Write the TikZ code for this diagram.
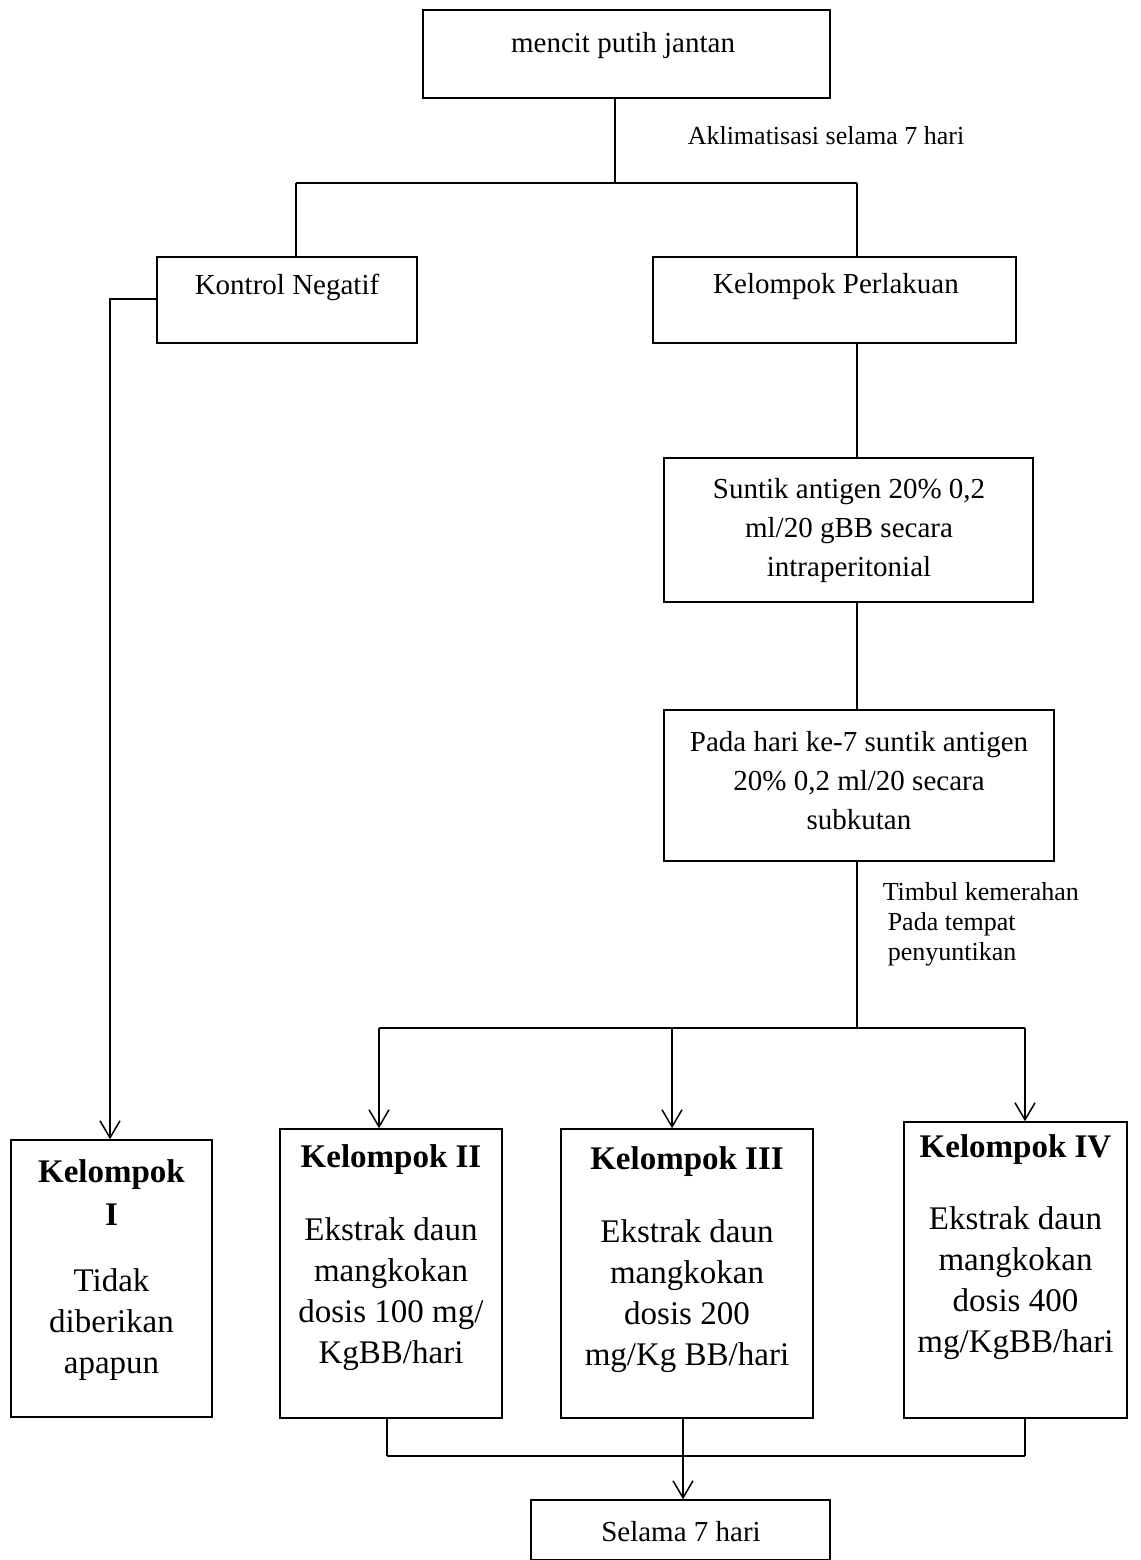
\documentclass[tikz,border=0pt]{standalone}
\usepackage{fontspec}
\setmainfont{Liberation Serif}
\usetikzlibrary{arrows.meta,positioning}

\begin{document}
\begin{tikzpicture}[x=1pt,y=-1pt,>={Straight Barb[length=17pt,width=20pt]},line width=1.5pt,
 b/.style={draw,line width=1.5pt,inner sep=0pt},
 t/.style={align=center,font=\fontsize{29}{39}\selectfont,inner sep=0pt},
 tk/.style={align=center,font=\fontsize{33}{41}\selectfont,inner sep=0pt},
 l/.style={align=left,font=\fontsize{26}{30}\selectfont,inner sep=0pt},
 a/.style={->}]
 \useasboundingbox (0,0) rectangle (1140,1560);
 % boxes
 \node[b,minimum width=407pt,minimum height=88pt] (mencit) at (626.5,54) {};
 \node[t] (mencitt) at (623,46) {mencit putih jantan};
 \node[b,minimum width=260pt,minimum height=86pt] (kontrol) at (287,300) {};
 \node[t] (kontrolt) at (287,287) {Kontrol Negatif};
 \node[b,minimum width=363pt,minimum height=86pt] (perlakuan) at (834.5,300) {};
 \node[t] (perlakuant) at (836,287) {Kelompok Perlakuan};
 \node[b,minimum width=369pt,minimum height=144pt] (suntik) at (848.5,530) {};
 \node[t] (suntikt) at (849,531) {Suntik antigen 20\% 0,2\\ml/20 gBB secara\\intraperitonial};
 \node[b,minimum width=390pt,minimum height=151pt] (pada) at (859,785.5) {};
 \node[t] (padat) at (859,781) {Pada hari ke-7 suntik antigen\\20\% 0,2 ml/20 secara\\subkutan};
 \node[b,minimum width=201pt,minimum height=277pt] (k1) at (111.5,1278.5) {};
 \node[tk,font=\fontsize{33}{43}\selectfont\bfseries] (k1h) at (111.5,1193) {Kelompok\\I};
 \node[tk] (k1t) at (111.5,1325) {Tidak\\diberikan\\apapun};
 \node[b,minimum width=222pt,minimum height=289pt] (k2) at (391,1273.5) {};
 \node[tk,font=\fontsize{33}{41}\selectfont\bfseries] (k2h) at (391,1160) {Kelompok II};
 \node[tk] (k2t) at (391,1294) {Ekstrak daun\\mangkokan\\dosis 100 mg/\\KgBB/hari};
 \node[b,minimum width=252pt,minimum height=289pt] (k3) at (687,1273.5) {};
 \node[tk,font=\fontsize{33}{41}\selectfont\bfseries] (k3h) at (687,1162) {Kelompok III};
 \node[tk] (k3t) at (687,1296) {Ekstrak daun\\mangkokan\\dosis 200\\mg/Kg BB/hari};
 \node[b,minimum width=223pt,minimum height=296pt] (k4) at (1015.5,1270) {};
 \node[tk,font=\fontsize{33}{41}\selectfont\bfseries] (k4h) at (1015.5,1150) {Kelompok IV};
 \node[tk] (k4t) at (1015.5,1283) {Ekstrak daun\\mangkokan\\dosis 400\\mg/KgBB/hari};
 \node[b,minimum width=299pt,minimum height=60pt] (selama) at (680.5,1530) {};
 \node[t] (selamat) at (681,1532) {Selama 7 hari};
 % labels
 \node[l,anchor=west] (aklim) at (687,136) {Aklimatisasi selama 7 hari};
 \node[l,anchor=west] (timbul) at (882,924) {Timbul kemerahan\\\hspace*{5pt}Pada tempat\\\hspace*{5pt}penyuntikan};
 % junctions
 \coordinate (split) at (615,183);
 \coordinate (jl) at (296,183);
 \coordinate (jr) at (857,183);
 \coordinate (kl) at (110,299);
 \coordinate (jb) at (857,1028);
 \coordinate (b2) at (379,1028);
 \coordinate (b3) at (672,1028);
 \coordinate (b4) at (1025,1028);
 \coordinate (m2) at (387,1456);
 \coordinate (m3) at (683,1456);
 \coordinate (m4) at (1025,1456);
 % connectors
 \draw (mencit.south -| split) -- (split);
 \draw (jl) -- (jr);
 \draw (jl) -- (jl |- kontrol.north);
 \draw (jr) -- (jr |- perlakuan.north);
 \draw (perlakuan.south -| jr) -- (suntik.north -| jr);
 \draw (suntik.south -| jr) -- (pada.north -| jr);
 \draw (pada.south -| jb) -- (jb);
 \draw (b2) -- (b4);
 \draw[a] (b2) -- (b2 |- k2.north);
 \draw[a] (b3) -- (b3 |- k3.north);
 \draw[a] (b4) -- (b4 |- k4.north);
 \draw[a] (kontrol.west |- kl) -- (kl) -- (kl |- k1.north);
 \draw (k2.south -| m2) -- (m2);
 \draw (k4.south -| m4) -- (m4);
 \draw[line width=2pt] (m2) -- (m4);
 \draw[a] (k3.south -| m3) -- (selama.north -| m3);
\end{tikzpicture}
\end{document}
